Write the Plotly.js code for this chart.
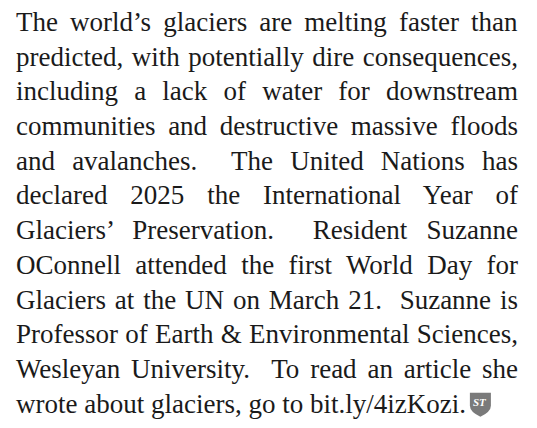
<!DOCTYPE html>
<html>
<head>
<meta charset="utf-8">
<script src="https://cdn.plot.ly/plotly-3.0.1.min.js"></script>
<style>html,body{margin:0;padding:0;background:#fff;}#chart{width:537px;height:428px;}</style>
</head>
<body>
<div id="chart"></div>
<script>
// Paragraph lines (text content of the picture)
const lines = [
  "The world\u2019s glaciers are melting faster than",
  "predicted, with potentially dire consequences,",
  "including a lack of water for downstream",
  "communities and destructive massive floods",
  "and avalanches.\u00A0 The United Nations has",
  "declared 2025 the International Year of",
  "Glaciers\u2019 Preservation.\u00A0 Resident Suzanne",
  "OConnell attended the first World Day for",
  "Glaciers at the UN on March 21.\u00A0 Suzanne is",
  "Professor of Earth & Environmental Sciences,",
  "Wesleyan University.\u00A0 To read an article she",
  "wrote about glaciers, go to bit.ly/4izKozi."
];
const justified = [true,true,true,true,true,true,true,true,true,true,true,false];
const logoText = "ST";

const W = 537, H = 428;
const LEFT = 14, RIGHT = 516;
const FIRST_BASE = 30, STEP = 34.7, FS = 27;
const FONT = 'Liberation Serif';
const px = x => x / W;
const py = y => 1 - y / H;

const annotations = lines.map((t, i) => ({
  text: t, xref: 'paper', yref: 'paper',
  x: px(LEFT), y: py(FIRST_BASE + i * STEP - 0.3 * FS),
  xanchor: 'left', yanchor: 'middle', align: 'left', showarrow: false,
  font: {family: FONT, size: FS, color: '#1a1a1a'}
}));

function shield(lx0, ly0) {
  const lx1 = lx0 + 21, ly1 = ly0 + 24, lm = (lx0 + lx1) / 2;
  return `M ${px(lx0)} ${py(ly0)} L ${px(lx1)} ${py(ly0)} L ${px(lx1)} ${py(ly0 + 13)} Q ${px(lx1)} ${py(ly1 - 5)} ${px(lm)} ${py(ly1)} Q ${px(lx0)} ${py(ly1 - 5)} ${px(lx0)} ${py(ly0 + 13)} Z`;
}

function justify() {
  const els = document.querySelectorAll('#chart .annotation-text');
  let lastEnd = RIGHT - 30;
  els.forEach((el, i) => {
    if (i >= lines.length) return;
    el.style.wordSpacing = '0px';
    if (!justified[i]) {
      lastEnd = el.getBoundingClientRect().right;
      return;
    }
    const bb = el.getBBox();
    const spaces = (lines[i].match(/[ \u00A0]/g) || []).length;
    el.style.wordSpacing = ((RIGHT - LEFT - bb.width) / spaces) + 'px';
  });
  return lastEnd;
}

const layout = {
  width: W, height: H,
  margin: {l: 0, r: 0, t: 0, b: 0},
  font: {family: FONT},
  xaxis: {visible: false, range: [0, 1]},
  yaxis: {visible: false, range: [0, 1]},
  annotations: annotations
};

Plotly.newPlot('chart', [], layout, {staticPlot: true}).then(() => {
  const lastEnd = justify();
  const lb = FIRST_BASE + (lines.length - 1) * STEP;
  const lx0 = lastEnd + 4, ly0 = lb - 19;
  return Plotly.relayout('chart', {
    shapes: [{type: 'path', xref: 'paper', yref: 'paper', path: shield(lx0, ly0),
      fillcolor: '#7a7a7a', line: {width: 0}}],
    annotations: annotations.concat([{
      text: '<b><i>' + logoText + '</i></b>', xref: 'paper', yref: 'paper',
      x: px(lx0 + 10.5), y: py(ly0 + 9), xanchor: 'center', yanchor: 'middle', showarrow: false,
      font: {family: FONT, size: 11, color: '#ffffff'}
    }])
  }).then(justify);
});
</script>
</body>
</html>
